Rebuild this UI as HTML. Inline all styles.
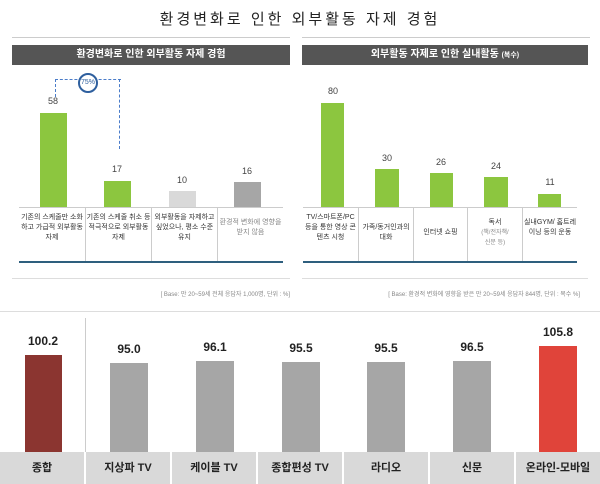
<!DOCTYPE html><html><head><meta charset="utf-8"><style>
body{margin:0;width:600px;height:484px;background:#fff;position:relative;overflow:hidden;font-family:"Liberation Sans","Noto Sans CJK KR",sans-serif}
div{position:absolute;box-sizing:border-box}
.t{text-align:center;white-space:nowrap}
.hd{background:#555;color:#fff;font-size:10px;font-weight:bold;text-align:center;line-height:20px;height:20px;top:45px}
.g{background:#8cc63f}
.v{font-size:9px;color:#444;width:40px;text-align:center}
.c{font-size:7px;color:#333;text-align:center;line-height:10px;top:213px}
.dv{width:1px;background:#ccc;top:208px;height:54px}
.b{font-size:12px;font-weight:bold;color:#222;width:60px;text-align:center}
.l{font-size:11px;font-weight:bold;color:#222;text-align:center;top:452px;height:32px;line-height:32px;background:#d9d9d9;border-right:2px solid #fff}
</style></head><body>
<div class="t" style="left:0;width:600px;top:8px;font-size:15px;letter-spacing:3px;color:#222">환경변화로 인한 외부활동 자제 경험</div>
<div style="left:12px;width:278px;top:37px;height:1px;background:#ccc"></div>
<div style="left:302px;width:288px;top:37px;height:1px;background:#ccc"></div>
<div class="hd" style="left:12px;width:278px">환경변화로 인한 외부활동 자제 경험</div>
<div class="hd" style="left:302px;width:286px">외부활동 자제로 인한 실내활동 <span style="font-size:7px">(복수)</span></div>
<div style="left:55px;top:79px;width:66px;height:1px;border-top:1px dashed #4a7cc9"></div>
<div style="left:55px;top:79px;width:1px;height:18px;border-left:1px dashed #4a7cc9"></div>
<div style="left:119px;top:79px;width:1px;height:70px;border-left:1px dashed #4a7cc9"></div>
<div style="left:78px;top:73px;width:20px;height:20px;border:2px solid #2e5f9e;border-radius:50%;background:#fff;font-size:7px;color:#2e5f9e;text-align:center;line-height:16px">75%</div>
<div class="g" style="left:40px;top:113px;width:27px;height:94px"></div><div class="v" style="left:33px;top:96px">58</div>
<div class="g" style="left:104px;top:181px;width:27px;height:26px"></div><div class="v" style="left:97px;top:164px">17</div>
<div style="left:169px;top:191px;width:27px;height:16px;background:#d9d9d9"></div><div class="v" style="left:162px;top:175px">10</div>
<div style="left:234px;top:182px;width:27px;height:25px;background:#a6a6a6"></div><div class="v" style="left:227px;top:166px">16</div>
<div style="left:19px;top:207px;width:264px;height:1px;background:#ccc"></div>
<div class="dv" style="left:85px"></div><div class="dv" style="left:151px"></div><div class="dv" style="left:217px"></div>
<div class="c" style="left:19px;width:66px">기존의 스케줄만 소화하고 가급적 외부활동 자제</div>
<div class="c" style="left:86px;width:65px">기존의 스케줄 취소 등 적극적으로 외부활동 자제</div>
<div class="c" style="left:152px;width:65px">외부활동을 자제하고 싶었으나, 평소 수준 유지</div>
<div class="c" style="left:218px;width:65px;color:#888;top:218px">환경적 변화에 영향을 받지 않음</div>
<div style="left:19px;top:261px;width:264px;height:2px;background:#2e5f7e"></div>
<div style="left:12px;top:278px;width:278px;height:1px;background:#ddd"></div>
<div style="left:120px;width:170px;top:289px;font-size:6px;color:#888;text-align:right">[ Base: 만 20~59세 전체 응답자 1,000명, 단위 : %]</div>
<div class="g" style="left:321px;top:103px;width:23px;height:104px"></div><div class="v" style="left:313px;top:86px">80</div>
<div class="g" style="left:375px;top:169px;width:24px;height:38px"></div><div class="v" style="left:367px;top:153px">30</div>
<div class="g" style="left:430px;top:173px;width:23px;height:34px"></div><div class="v" style="left:421px;top:157px">26</div>
<div class="g" style="left:484px;top:177px;width:24px;height:30px"></div><div class="v" style="left:476px;top:161px">24</div>
<div class="g" style="left:538px;top:194px;width:23px;height:13px"></div><div class="v" style="left:530px;top:177px">11</div>
<div style="left:303px;top:207px;width:274px;height:1px;background:#ccc"></div>
<div class="dv" style="left:358px"></div><div class="dv" style="left:413px"></div><div class="dv" style="left:467px"></div><div class="dv" style="left:522px"></div>
<div class="c" style="left:303px;width:55px">TV/스마트폰/PC 등을 통한 영상 콘텐츠 시청</div>
<div class="c" style="left:359px;width:54px;top:223px">가족/동거인과의 대화</div>
<div class="c" style="left:414px;width:53px;top:228px">인터넷 쇼핑</div>
<div class="c" style="left:468px;width:54px;top:218px">독서<br><span style="font-size:6px;color:#888">(책/전자책/<br>신문 등)</span></div>
<div class="c" style="left:523px;width:54px;top:218px">실내GYM/ 홈트레이닝 등의 운동</div>
<div style="left:303px;top:261px;width:274px;height:2px;background:#2e5f7e"></div>
<div style="left:302px;top:278px;width:286px;height:1px;background:#ddd"></div>
<div style="left:330px;width:250px;top:289px;font-size:6px;color:#888;text-align:right">[ Base: 환경적 변화에 영향을 받은 만 20~59세 응답자 844명, 단위 : 복수 %]</div>
<!-- bottom -->
<div style="left:0;top:311px;width:600px;height:1px;background:#ddd"></div>
<div style="left:85px;top:318px;width:1px;height:134px;background:#ccc"></div>
<div style="left:25px;top:355px;width:37px;height:97px;background:#8b3530"></div><div class="b" style="left:13px;top:334px">100.2</div>
<div style="left:110px;top:363px;width:38px;height:89px;background:#a6a6a6"></div><div class="b" style="left:99px;top:342px">95.0</div>
<div style="left:196px;top:361px;width:38px;height:91px;background:#a6a6a6"></div><div class="b" style="left:185px;top:340px">96.1</div>
<div style="left:282px;top:362px;width:38px;height:90px;background:#a6a6a6"></div><div class="b" style="left:271px;top:341px">95.5</div>
<div style="left:367px;top:362px;width:38px;height:90px;background:#a6a6a6"></div><div class="b" style="left:356px;top:341px">95.5</div>
<div style="left:453px;top:361px;width:38px;height:91px;background:#a6a6a6"></div><div class="b" style="left:442px;top:340px">96.5</div>
<div style="left:539px;top:346px;width:38px;height:106px;background:#e0443a"></div><div class="b" style="left:528px;top:325px">105.8</div>
<div class="l" style="left:0;width:86px">종합</div>
<div class="l" style="left:86px;width:86px">지상파 TV</div>
<div class="l" style="left:172px;width:86px">케이블 TV</div>
<div class="l" style="left:258px;width:86px">종합편성 TV</div>
<div class="l" style="left:344px;width:86px">라디오</div>
<div class="l" style="left:430px;width:86px">신문</div>
<div class="l" style="left:516px;width:84px;border-right:none">온라인-모바일</div>
</body></html>
